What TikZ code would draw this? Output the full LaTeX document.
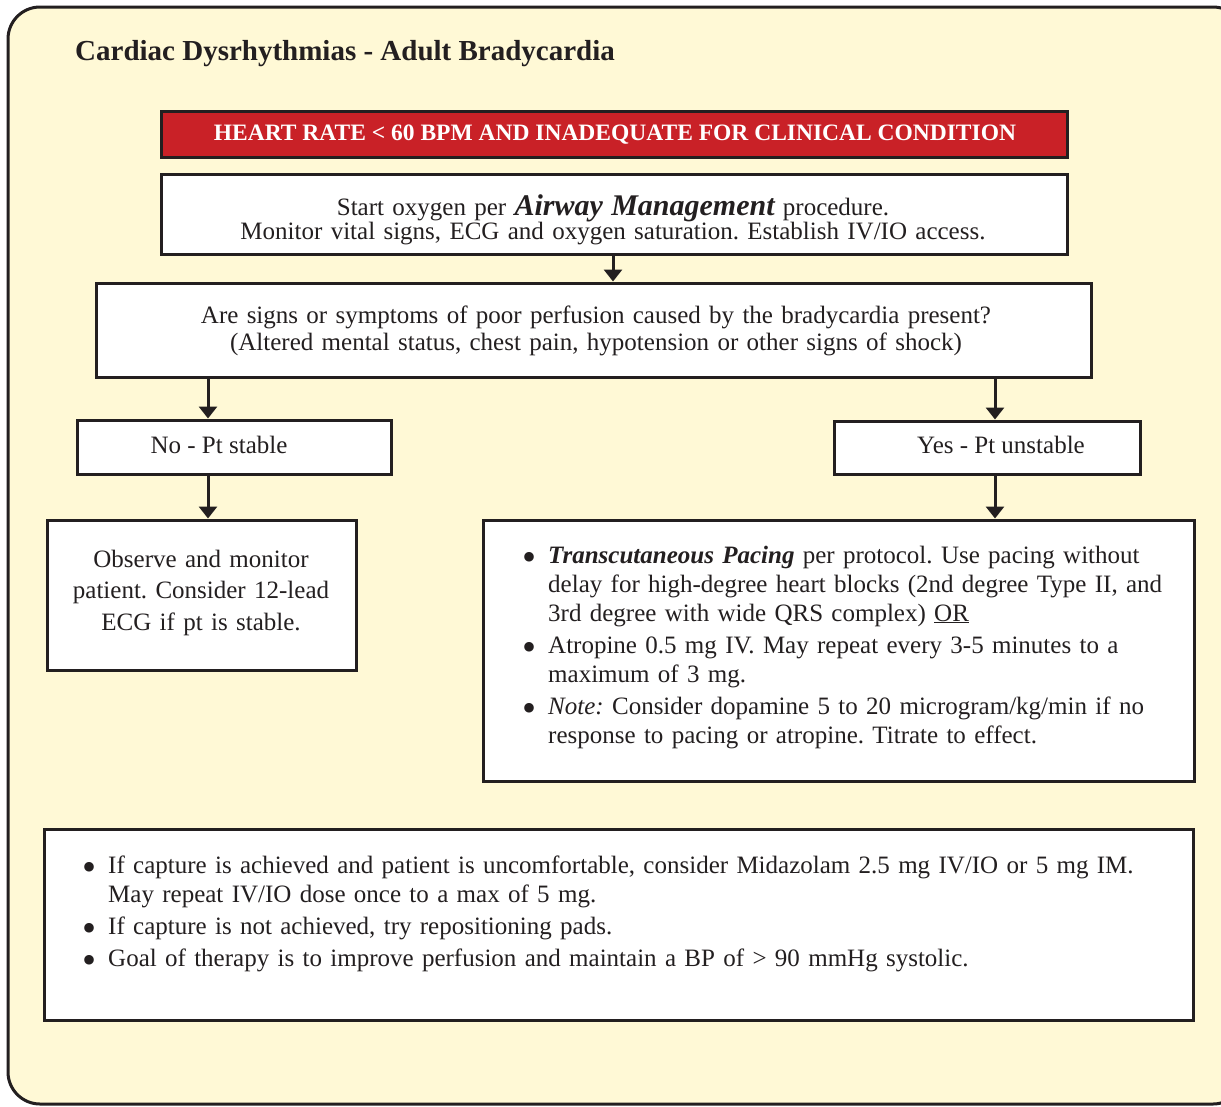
\documentclass[tikz,border=0pt]{standalone}
\usepackage{fontspec}
\setmainfont{Liberation Serif}
\usetikzlibrary{arrows.meta}
\definecolor{cream}{RGB}{255,249,214}
\definecolor{hdrred}{RGB}{201,33,39}
\definecolor{ink}{RGB}{35,31,32}
\newcommand\blt{\leavevmode\llap{\smash{\raisebox{-7pt}{\fontsize{40}{40}\selectfont\textbullet}}\hspace{12pt}}}
\frenchspacing
\begin{document}
\frenchspacing
\begin{tikzpicture}[x=1pt,y=-1pt,
  box/.style={draw=ink,line width=3pt,fill=white,rectangle,inner sep=0pt},
  txt/.style={inner sep=0pt,text=ink},
  body/.style={font=\fontsize{25}{#1}\selectfont\frenchspacing},
  arr/.style={draw=ink,line width=3pt,-{Triangle[width=18pt,length=12pt]}}
]
\useasboundingbox (0,0) rectangle (1221,1106);
\fill[white] (0,0) rectangle (1221,1106);
\draw[draw=ink,line width=3pt,fill=cream,rounded corners=32pt] (8,7) rectangle (1245,1104);

% boxes
\node[box,fill=hdrred,minimum width=906pt,minimum height=46pt] (hdr) at (614,134) {};
\node[box,minimum width=906pt,minimum height=80pt] (b1) at (614,214) {};
\node[box,minimum width=995pt,minimum height=94pt] (b2) at (593.5,330) {};
\node[box,minimum width=314pt,minimum height=54pt] (no) at (234,447) {};
\node[box,minimum width=306pt,minimum height=53pt] (yes) at (987,447.5) {};
\node[box,minimum width=309pt,minimum height=150pt] (obs) at (201.5,595) {};
\node[box,minimum width=711pt,minimum height=261pt] (act) at (838.5,650.5) {};
\node[box,minimum width=1149pt,minimum height=191pt] (notes) at (618.5,924.5) {};

% connectors
\coordinate (xm) at (613,0);
\coordinate (xl) at (208,0);
\coordinate (xr) at (995,0);
\draw[arr] (b1.south -| xm) -- (b2.north -| xm);
\draw[arr] (b2.south -| xl) -- (no.north -| xl);
\draw[arr] (b2.south -| xr) -- (yes.north -| xr);
\draw[arr] (no.south -| xl) -- (obs.north -| xl);
\draw[arr] (yes.south -| xr) -- (act.north -| xr);

% texts
\node[txt,anchor=base west,font=\bfseries\fontsize{29}{34}\selectfont] (title) at (75,60)
  {Cardiac Dysrhythmias - Adult Bradycardia};
\node[txt,anchor=base,text=white,font=\bfseries\fontsize{23.5}{28}\selectfont] (hdrt) at (615,140)
  {HEART RATE < 60 BPM AND INADEQUATE FOR CLINICAL CONDITION};
\node[txt,anchor=base,body=23.5,text width=900pt,align=center] (t1) at (613,215)
  {\lineskiplimit=-30pt\relax Start oxygen per {\bfseries\itshape\fontsize{30}{30}\selectfont Airway Management} procedure.\\
   Monitor vital signs, ECG and oxygen saturation. Establish IV/IO access.};
\node[txt,anchor=base,body=27,text width=990pt,align=center] (t2) at (596,323)
  {Are signs or symptoms of poor perfusion caused by the bradycardia present?\\
   (Altered mental status, chest pain, hypotension or other signs of shock)};
\node[txt,anchor=base,body=29] (tno) at (219,453) {No - Pt stable};
\node[txt,anchor=base,body=29] (tyes) at (1001,453) {Yes - Pt unstable};
\node[txt,anchor=base,body=31.5,text width=305pt,align=center] (tobs) at (201,567)
  {Observe and monitor\\ patient. Consider 12-lead\\ ECG if pt is stable.};
\node[txt,anchor=base west,body=29,text width=640pt,align=left] (tact) at (548,563)
  {\blt{\bfseries\itshape Transcutaneous Pacing} per protocol. Use pacing without\\
   delay for high-degree heart blocks (2nd degree Type II, and\\
   3rd degree with wide QRS complex) \underline{OR}\\[3pt]
   \blt Atropine 0.5 mg IV. May repeat every 3-5 minutes to a\\
   maximum of 3 mg.\\[3pt]
   \blt\textit{Note:} Consider dopamine 5 to 20 microgram/kg/min if no\\
   response to pacing or atropine. Titrate to effect.};
\node[txt,anchor=base west,body=29,text width=1075pt,align=left] (tnotes) at (108,873)
  {\blt If capture is achieved and patient is uncomfortable, consider Midazolam 2.5 mg IV/IO or 5 mg IM.\\
   May repeat IV/IO dose once to a max of 5 mg.\\[3pt]
   \blt If capture is not achieved, try repositioning pads.\\[3pt]
   \blt Goal of therapy is to improve perfusion and maintain a BP of > 90 mmHg systolic.};
\end{tikzpicture}
\end{document}
